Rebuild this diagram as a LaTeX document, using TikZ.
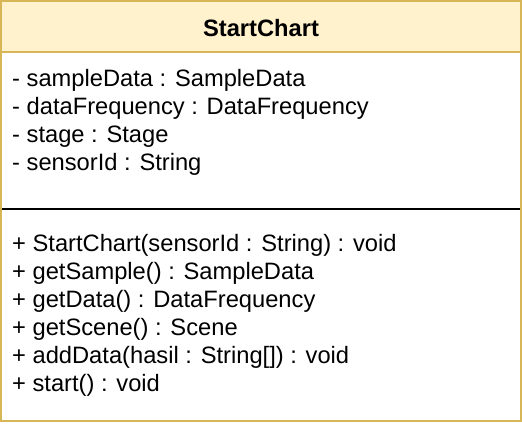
\documentclass[tikz,border=0pt]{standalone}
\usepackage{fontspec}
\setmainfont{Liberation Sans}
\definecolor{hdrfill}{HTML}{FFF2CC}
\definecolor{hdrdraw}{HTML}{D6B656}
\tikzset{
  member/.style={anchor=west, inner sep=0pt, font=\fontsize{23.7}{28}\selectfont},
}
\begin{document}
\begin{tikzpicture}[x=1pt,y=1pt]
\useasboundingbox (0,0) rectangle (522,428);
% body
\fill[white] (1,7) rectangle (521,427);
\fill[hdrfill] (1,376) rectangle (521,427);
\draw[hdrdraw, line width=2pt] (1,376) -- (521,376);
\draw[black, line width=2pt] (1,219) -- (521,219);
\draw[hdrdraw, line width=2pt] (1,7) rectangle (521,427);
\node[inner sep=0pt, font=\fontsize{23.7}{28}\selectfont\bfseries] (title) at (261,400) {StartChart};
\node[member] (a1) at (12,347.5) {- sampleData : SampleData};
\node[member] (a2) at (12,319.5) {- dataFrequency : DataFrequency};
\node[member] (a3) at (12,291.5) {- stage : Stage};
\node[member] (a4) at (12,263.5) {- sensorId : String};
\node[member] (m1) at (12,183) {+ StartChart(sensorId : String) : void};
\node[member] (m2) at (12,155) {+ getSample() : SampleData};
\node[member] (m3) at (12,127) {+ getData() : DataFrequency};
\node[member] (m4) at (12,99) {+ getScene() : Scene};
\node[member] (m5) at (12,71) {+ addData(hasil : String[]) : void};
\node[member] (m6) at (12,43) {+ start() : void};
\end{tikzpicture}
\end{document}
